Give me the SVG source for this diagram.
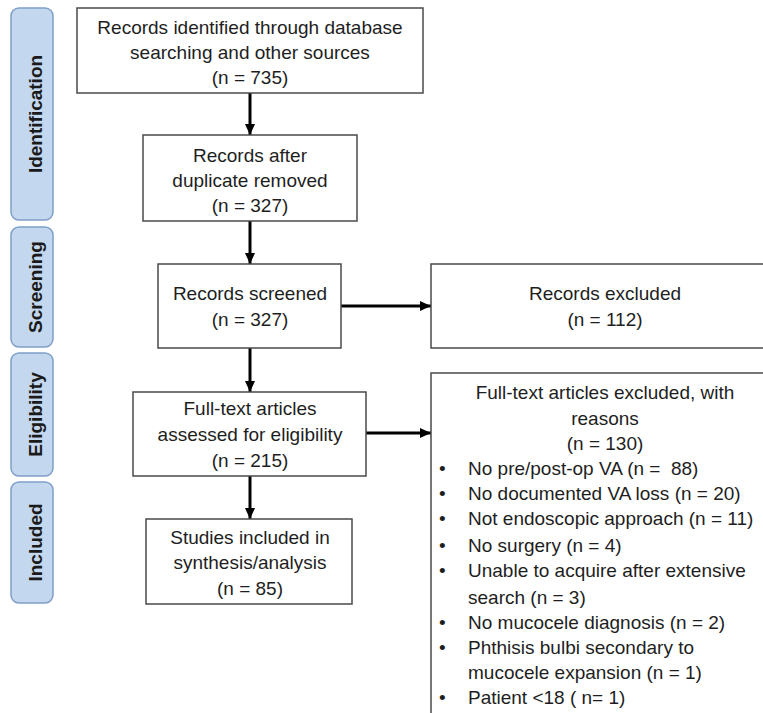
<svg xmlns="http://www.w3.org/2000/svg" width="763" height="713" viewBox="0 0 763 713">
<style>
  .phase { fill: #c3d7ef; stroke: #7f9fc8; stroke-width: 1.5; }
  .phase-t { font-family: "Liberation Sans", Arial, sans-serif; font-size: 19px; font-weight: bold; fill: #1a1a1a; text-anchor: middle; }
  .box { fill: #ffffff; stroke: #4a4a4a; stroke-width: 1.5; }
  .t { font-family: "Liberation Sans", Arial, sans-serif; font-size: 19px; fill: #1e1e1e; text-anchor: middle; }
  .l { font-family: "Liberation Sans", Arial, sans-serif; font-size: 19px; fill: #1e1e1e; }
  .conn { stroke: #000; stroke-width: 3; fill: none; }
</style>
<defs>
  <marker id="ah" markerUnits="userSpaceOnUse" markerWidth="12" markerHeight="12" viewBox="0 0 12 12" refX="11" refY="6" orient="auto">
    <path d="M0,1 L11,6 L0,11 Z" fill="#000"/>
  </marker>
</defs>
<rect width="763" height="713" fill="#ffffff"/>

<g id="phase-identification">
  <rect class="phase" x="11" y="8" width="42" height="212" rx="8"/>
  <text class="phase-t" transform="translate(42,114) rotate(-90)">Identification</text>
</g>
<g id="phase-screening">
  <rect class="phase" x="11" y="227" width="42" height="120" rx="8"/>
  <text class="phase-t" transform="translate(42,287) rotate(-90)">Screening</text>
</g>
<g id="phase-eligibility">
  <rect class="phase" x="11" y="353" width="42" height="123" rx="8"/>
  <text class="phase-t" transform="translate(42,414.5) rotate(-90)">Eligibility</text>
</g>
<g id="phase-included">
  <rect class="phase" x="11" y="482" width="42" height="121" rx="8"/>
  <text class="phase-t" transform="translate(42,542.5) rotate(-90)">Included</text>
</g>

<g id="connectors">
  <line class="conn" x1="250" y1="93" x2="250" y2="135" marker-end="url(#ah)"/>
  <line class="conn" x1="250" y1="221" x2="250" y2="264" marker-end="url(#ah)"/>
  <line class="conn" x1="250" y1="348" x2="250" y2="392" marker-end="url(#ah)"/>
  <line class="conn" x1="250" y1="476" x2="250" y2="519" marker-end="url(#ah)"/>
  <line class="conn" x1="341" y1="306" x2="431" y2="306" marker-end="url(#ah)"/>
  <line class="conn" x1="366" y1="433" x2="431" y2="433" marker-end="url(#ah)"/>
</g>

<g id="records-identified">
  <rect class="box" x="77" y="8" width="346" height="85"/>
  <text class="t" x="250" y="34">Records identified through database</text>
  <text class="t" x="250" y="59">searching and other sources</text>
  <text class="t" x="250" y="84">(n = 735)</text>
</g>
<g id="records-after-duplicates">
  <rect class="box" x="143" y="135" width="214" height="86"/>
  <text class="t" x="250" y="162">Records after</text>
  <text class="t" x="250" y="187">duplicate removed</text>
  <text class="t" x="250" y="212">(n = 327)</text>
</g>
<g id="records-screened">
  <rect class="box" x="158" y="264" width="183" height="84"/>
  <text class="t" x="250" y="300">Records screened</text>
  <text class="t" x="250" y="326">(n = 327)</text>
</g>
<g id="full-text-assessed">
  <rect class="box" x="133" y="392" width="233" height="84"/>
  <text class="t" x="250" y="415">Full-text articles</text>
  <text class="t" x="250" y="441">assessed for eligibility</text>
  <text class="t" x="250" y="467">(n = 215)</text>
</g>
<g id="studies-included">
  <rect class="box" x="146" y="519" width="206" height="85"/>
  <text class="t" x="250" y="544">Studies included in</text>
  <text class="t" x="250" y="569">synthesis/analysis</text>
  <text class="t" x="250" y="595">(n = 85)</text>
</g>
<g id="records-excluded">
  <rect class="box" x="431" y="264" width="348" height="84"/>
  <text class="t" x="605" y="300">Records excluded</text>
  <text class="t" x="605" y="326">(n = 112)</text>
</g>
<g id="full-text-excluded">
  <rect class="box" x="431" y="373" width="348" height="360"/>
  <text class="t" x="605" y="399">Full-text articles excluded, with</text>
  <text class="t" x="605" y="425">reasons</text>
  <text class="t" x="605" y="450">(n = 130)</text>
  <g class="l">
    <text x="439" y="475">•</text><text x="468" y="475" xml:space="preserve">No pre/post-op VA (n =  88)</text>
    <text x="439" y="500">•</text><text x="468" y="500">No documented VA loss (n = 20)</text>
    <text x="439" y="525">•</text><text x="468" y="525">Not endoscopic approach (n = 11)</text>
    <text x="439" y="552">•</text><text x="468" y="552">No surgery (n = 4)</text>
    <text x="439" y="577">•</text><text x="468" y="577">Unable to acquire after extensive</text>
    <text x="468" y="604">search (n = 3)</text>
    <text x="439" y="629">•</text><text x="468" y="629">No mucocele diagnosis (n = 2)</text>
    <text x="439" y="654">•</text><text x="468" y="654">Phthisis bulbi secondary to</text>
    <text x="468" y="679">mucocele expansion (n = 1)</text>
    <text x="439" y="704">•</text><text x="468" y="704">Patient &lt;18 ( n= 1)</text>
  </g>
</g>
</svg>
